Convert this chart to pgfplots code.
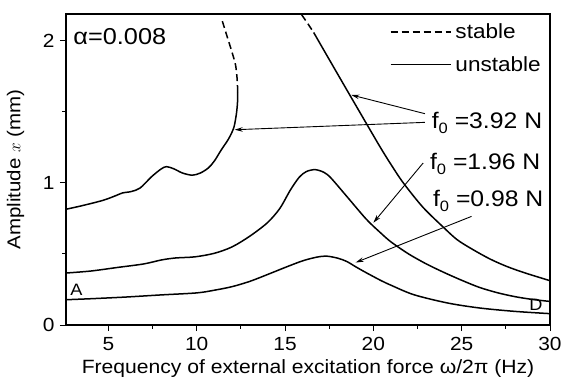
\documentclass[border=0pt]{standalone}
\usepackage{fontspec}
\setmainfont{Liberation Sans}[FakeStretch=1.1]
\usepackage{pgfplots}
\pgfplotsset{compat=1.18}
\usetikzlibrary{arrows.meta}

\pgfplotstableread{
x y
2.6 0.178
4 0.185
6 0.197
8 0.212
10 0.226
11 0.245
12 0.27
13 0.307
14 0.355
15 0.405
16 0.452
16.8 0.478
17.35 0.485
18 0.47
18.5 0.447
19 0.41
19.6 0.368
20.4 0.315
21 0.28
22.3 0.213
24.2 0.155
26 0.12
28 0.096
30 0.08
}\lowcurve

\pgfplotstableread{
x y
2.6 0.366
4 0.38
5.5 0.405
7 0.43
8 0.458
8.8 0.472
9.9 0.48
11 0.505
12 0.55
13 0.625
14 0.72
14.7 0.82
15.3 0.95
15.8 1.04
16.2 1.08
16.7 1.094
17.2 1.075
17.6 1.035
18.5 0.905
19.6 0.745
20.4 0.65
21 0.585
22 0.5
23 0.43
24 0.37
25 0.315
26 0.265
27 0.228
28 0.2
29 0.18
30 0.166
}\midcurve

\pgfplotstableread{
x y
2.6 0.815
3.5 0.84
4.7 0.878
5.4 0.91
5.8 0.93
6.3 0.94
6.8 0.965
7.45 1.045
8.0 1.1
8.3 1.115
8.7 1.1
9.2 1.07
9.75 1.055
10.2 1.07
10.65 1.105
11.0 1.155
11.4 1.235
11.8 1.31
12.1 1.39
12.25 1.49
12.31 1.57
12.32 1.64
}\hileftsolid

\pgfplotstableread{
x y
12.32 1.64
12.29 1.73
12.2 1.83
12.0 1.92
11.7 2.04
11.4 2.16
}\hileftdash

\pgfplotstableread{
x y
15.94 2.185
16.3 2.12
16.62 2.06
}\hirightdash

\pgfplotstableread{
x y
16.62 2.06
17.5 1.87
18.5 1.655
19.6 1.42
20.4 1.25
21.0 1.13
21.7 1.0
22.8 0.83
23.95 0.69
24.75 0.60
25.65 0.53
26.6 0.465
27.5 0.415
28.5 0.37
30 0.312
}\hirightsolid

\begin{document}
\begin{tikzpicture}
\begin{axis}[
  scale only axis, width=484pt, height=311pt,
  xmin=2.6, xmax=30, ymin=0, ymax=2.19,
  xtick={5,10,15,20,25,30}, ytick={0,1,2},
  minor x tick num=1, minor y tick num=1,
  tick pos=left, tick align=outside,
  major tick length=6pt, minor tick length=3.5pt,
  every tick/.style={black, line width=1pt},
  axis line style={line width=1.2pt},
  tick label style={font=\fontsize{19}{19}\selectfont},
  xticklabel style={yshift=-3pt},
  yticklabel style={xshift=-2pt},
  /pgf/number format/assume math mode=true,
  xlabel={Frequency of external excitation force ω/2π (Hz)},
  ylabel={Amplitude $x$ (mm)},
  xlabel style={font=\fontsize{19.2}{20}\selectfont, at={(axis description cs:0.5,0)}, anchor=base, yshift=-48.5pt},
  ylabel style={font=\fontsize{18.6}{19}\selectfont, at={(axis description cs:-0.104,0.5)}, anchor=center},
  legend style={draw=none, fill=none, at={(axis description cs:0.669,0.975)}, anchor=north west,
    font=\fontsize{20.5}{21}\selectfont, inner sep=0pt, row sep=12pt, nodes={inner xsep=4pt, inner ysep=2pt}},
  legend image code/.code={\draw[#1] (0pt,0pt) -- (60pt,0pt);},
  legend cell align=left,
  every axis plot/.append style={line width=1.5pt, black},
]
\addlegendimage{line width=1.5pt, dash pattern=on 7pt off 4pt}
\addlegendentry{stable}
\addlegendimage{line width=1.5pt}
\addlegendentry{unstable}

\addplot[smooth, forget plot] table {\lowcurve};
\addplot[smooth, forget plot] table {\midcurve};
\addplot[smooth, forget plot] table {\hileftsolid};
\addplot[smooth, forget plot, dash pattern=on 7pt off 4pt] table {\hileftdash};
\addplot[smooth, forget plot, dash pattern=on 7pt off 4pt] table {\hirightdash};
\addplot[smooth, forget plot] table {\hirightsolid};

\tikzset{arr/.style={line width=0.9pt, -{Stealth[length=8pt,width=4.5pt]}}}
\draw[arr] (axis cs:22.92,1.488) -- (axis cs:18.75,1.62);
\draw[arr] (axis cs:22.92,1.427) -- (axis cs:12.15,1.375);
\draw[arr] (axis cs:22.82,1.141) -- (axis cs:20.0,0.72);
\draw[arr] (axis cs:25.56,0.765) -- (axis cs:19.0,0.44);

\node[anchor=base west, inner sep=0pt, font=\fontsize{23}{23}\selectfont] at (axis cs:3.01,1.974) {α=0.008};
\node[anchor=base west, inner sep=0pt, font=\fontsize{22.5}{23}\selectfont] at (axis cs:23.3,1.387) {f\raisebox{-0.45ex}{\fontsize{15}{15}\selectfont 0} =3.92 N};
\node[anchor=base west, inner sep=0pt, font=\fontsize{22.5}{23}\selectfont] at (axis cs:23.2,1.094) {f\raisebox{-0.45ex}{\fontsize{15}{15}\selectfont 0} =1.96 N};
\node[anchor=base west, inner sep=0pt, font=\fontsize{22.5}{23}\selectfont] at (axis cs:23.37,0.835) {f\raisebox{-0.45ex}{\fontsize{15}{15}\selectfont 0} =0.98 N};
\node[font=\fontsize{16.5}{17}\selectfont] at (axis cs:3.19,0.249) {A};
\node[font=\fontsize{16.5}{17}\selectfont] at (axis cs:29.2,0.14) {D};
\end{axis}
\pgfresetboundingbox
\path[use as bounding box] ([shift={(-66pt,-53pt)}]current axis.south west) rectangle ([shift={(13pt,14pt)}]current axis.north east);
\end{tikzpicture}
\end{document}
